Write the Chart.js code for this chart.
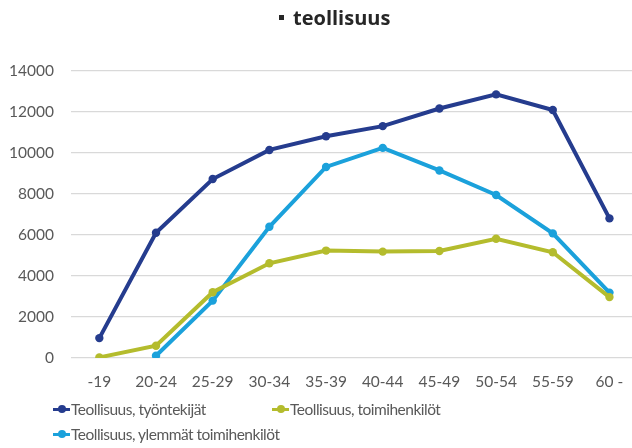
<!DOCTYPE html>
<html>
<head>
<meta charset="utf-8">
<script src="https://cdn.jsdelivr.net/npm/chart.js@4/dist/chart.umd.min.js"></script>
<style>
  html, body { margin: 0; padding: 0; background: #fff; overflow: hidden; }
  #wrap { position: relative; width: 642px; height: 448px; }
  #title { position: absolute; left: 279px; top: 4px; font-family: "Open Sans", sans-serif; font-weight: bold; font-size: 20px; color: #262626; white-space: nowrap; }
  #title .sq { display: inline-block; width: 5px; height: 5px; background: #262626; vertical-align: middle; margin-right: 9px; position: relative; top: -2px; }
  .leg { position: absolute; font-family: Lato, "Open Sans", sans-serif; font-size: 15.5px; letter-spacing: -0.5px; color: #595959; white-space: nowrap; display: flex; align-items: center; }
  .leg .mk { position: relative; width: 17px; height: 10px; margin-right: 1px; }
  .leg .mk i { position: absolute; left: 0; right: 0; top: 3.5px; height: 3px; }
  .leg .mk b { position: absolute; left: 4.5px; top: 1px; width: 8px; height: 8px; border-radius: 50%; }
</style>
</head>
<body>
<div id="wrap">
  <canvas id="chart" width="642" height="448"></canvas>
  <div id="title"><span class="sq"></span>teollisuus</div>
  <div id="legend"></div>
</div>
<script>
const categories = ["-19", "20-24", "25-29", "30-34", "35-39", "40-44", "45-49", "50-54", "55-59", "60 -"];
const seriesNames = ["Teollisuus, työntekijät", "Teollisuus, toimihenkilöt", "Teollisuus, ylemmät toimihenkilöt"];
const tyontekijat = [970, 6110, 8730, 10150, 10820, 11310, 12170, 12860, 12100, 6810];
const toimihenkilot = [30, 600, 3210, 4620, 5240, 5190, 5220, 5820, 5160, 2970];
const ylemmat = [null, 110, 2800, 6400, 9320, 10250, 9150, 7950, 6080, 3190];
const colors = ["#253c8e", "#b4bc2d", "#1ba1db"];
const yTicks = [0, 2000, 4000, 6000, 8000, 10000, 12000, 14000];

const seriesData = [tyontekijat, toimihenkilot, ylemmat];
const tickFont = { family: "Lato, 'Open Sans', sans-serif", size: 15.5 };

const datasets = seriesData.map((d, i) => ({
  label: seriesNames[i],
  data: d,
  borderColor: colors[i],
  backgroundColor: colors[i],
  borderWidth: 4,
  pointRadius: 4.2,
  pointHoverRadius: 4.2,
  pointBorderWidth: 0,
  tension: 0,
  spanGaps: false
}));

const ctx = document.getElementById("chart").getContext("2d");
new Chart(ctx, {
  type: "line",
  data: { labels: categories, datasets: datasets },
  options: {
    responsive: false,
    animation: false,
    layout: { padding: { top: 71, right: 2, left: 0, bottom: 0 } },
    plugins: {
      legend: { display: false },
      tooltip: { enabled: false }
    },
    scales: {
      x: {
        offset: true,
        grid: { display: false, drawTicks: false },
        border: { display: false },
        ticks: { color: "#595959", font: tickFont, padding: 15, maxRotation: 0, autoSkip: false },
        afterFit: (scale) => { scale.height = 90; }
      },
      y: {
        min: 0,
        max: 14000,
        afterBuildTicks: (scale) => { scale.ticks = yTicks.map(v => ({ value: v })); },
        grid: { color: "#d9d9d9", lineWidth: 1.3, drawTicks: false },
        border: { display: false },
        ticks: { color: "#595959", font: tickFont, padding: 17, callback: (v) => String(v) },
        afterFit: (scale) => { scale.width = 71; }
      }
    }
  }
});

// legend laid out like the original (two columns)
const legendPos = [[53, 400], [272, 400], [53, 425]];
const legendDiv = document.getElementById("legend");
seriesNames.forEach((name, i) => {
  const item = document.createElement("div");
  item.className = "leg";
  item.style.left = legendPos[i][0] + "px";
  item.style.top = legendPos[i][1] + "px";
  item.innerHTML = `<span class="mk"><i style="background:${colors[i]}"></i><b style="background:${colors[i]}"></b></span>${name}`;
  legendDiv.appendChild(item);
});
</script>
</body>
</html>
